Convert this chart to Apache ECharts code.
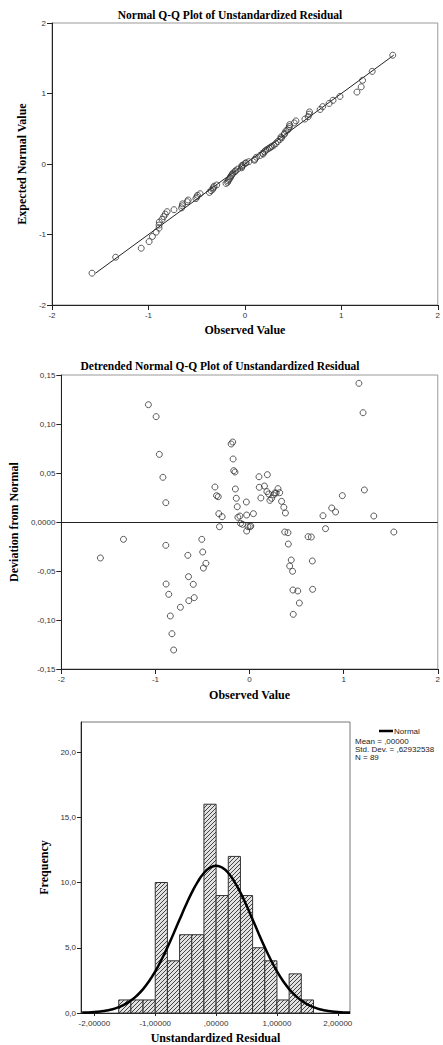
<!DOCTYPE html>
<html>
<head>
<meta charset="utf-8">
<script src="https://cdn.jsdelivr.net/npm/echarts@6/dist/echarts.min.js"></script>
<style>
  html, body { margin: 0; padding: 0; background: #fff; }
  #main { width: 443px; height: 1045px; }
</style>
</head>
<body>
<div id="main"></div>
<script>
// residuals (x) and their deviation from normal
const observed = [
  -1.585, -1.340, -1.075, -0.993, -0.959, -0.921, -0.890, -0.890, -0.887, -0.859,
  -0.842, -0.825, -0.807, -0.735, -0.656, -0.649, -0.646, -0.598, -0.588, -0.508,
  -0.498, -0.491, -0.464, -0.368, -0.351, -0.333, -0.327, -0.320, -0.292, -0.196,
  -0.179, -0.175, -0.168, -0.155, -0.151, -0.141, -0.131, -0.124, -0.103, -0.096,
  -0.075, -0.034, -0.031, -0.031, -0.017, 0.005, 0.013, 0.041, 0.100, 0.103,
  0.120, 0.158, 0.184, 0.189, 0.203, 0.216, 0.234, 0.254, 0.268, 0.282,
  0.302, 0.320, 0.340, 0.364, 0.381, 0.374, 0.408, 0.412, 0.443, 0.426,
  0.457, 0.461, 0.512, 0.529, 0.464, 0.622, 0.656, 0.667, 0.670, 0.780,
  0.807, 0.873, 0.914, 0.986, 1.162, 1.206, 1.220, 1.320, 1.533
];
const deviation = [
  -0.0367, -0.0177, 0.1197, 0.1075, 0.0690, 0.0456, 0.0197, -0.0238, -0.0633, -0.0738,
  -0.0959, -0.1140, -0.1306, -0.0870, -0.0340, -0.0558, -0.0803, -0.0636, -0.0772, -0.0177,
  -0.0306, -0.0470, -0.0422, 0.0357, 0.0269, 0.0258, 0.0085, -0.0048, 0.0054, 0.0796,
  0.0816, 0.0643, 0.0524, 0.0510, 0.0337, 0.0242, 0.0156, 0.0048, 0.0061, -0.0014,
  -0.0024, 0.0204, 0.0071, -0.0092, -0.0048, -0.0048, -0.0041, 0.0085, 0.0462, 0.0354,
  0.0245, 0.0367, 0.0310, 0.0483, 0.0286, 0.0221, 0.0242, 0.0276, 0.0296, 0.0296,
  0.0340, 0.0299, 0.0211, 0.0150, 0.0092, -0.0102, -0.0109, -0.0225, -0.0388, -0.0449,
  -0.0503, -0.0694, -0.0704, -0.0827, -0.0942, -0.0150, -0.0153, -0.0398, -0.0687, 0.0064,
  -0.0068, 0.0143, 0.0102, 0.0269, 0.1415, 0.1115, 0.0327, 0.0061, -0.0102
];

// histogram
const binStarts = [-1.6, -1.4, -1.2, -1.0, -0.8, -0.6, -0.4, -0.2, 0.0, 0.2, 0.4, 0.6, 0.8, 1.0, 1.2, 1.4];
const binCounts = [1, 1, 1, 10, 4, 6, 6, 16, 9, 12, 9, 5, 4, 1, 3, 1];
const BIN_WIDTH = 0.2;

// normal curve
const curveX = [
  -2.2, -2.1, -2.0, -1.9, -1.8, -1.7, -1.6, -1.5, -1.4, -1.3, -1.2, -1.1, -1.0, -0.9, -0.8,
  -0.7, -0.6, -0.5, -0.4, -0.3, -0.2, -0.1, 0.0, 0.1, 0.2, 0.3, 0.4, 0.5, 0.6, 0.7,
  0.8, 0.9, 1.0, 1.1, 1.2, 1.3, 1.4, 1.5, 1.6, 1.7, 1.8, 1.9, 2.0, 2.1, 2.2
];
const curveY = [
  0.03, 0.04, 0.07, 0.12, 0.19, 0.29, 0.45, 0.66, 0.95, 1.34, 1.83, 2.45, 3.19, 4.06, 5.03,
  6.08, 7.16, 8.23, 9.22, 10.07, 10.73, 11.14, 11.28, 11.14, 10.73, 10.07, 9.22, 8.23, 7.16, 6.08,
  5.03, 4.06, 3.19, 2.45, 1.83, 1.34, 0.95, 0.66, 0.45, 0.29, 0.19, 0.12, 0.07, 0.04, 0.03
];

const histXTicks = [-2, -1, 0, 1, 2];
const histYTicks = [0, 5, 10, 15, 20];
const statsLines = ['Mean = ,00000', 'Std. Dev. = ,62932538', 'N = 89'];

const qqPoints = observed.map((x, i) => [x, +(x - deviation[i]).toFixed(4)]);
const detrendPoints = observed.map((x, i) => [x, deviation[i]]);
const expected = qqPoints.map(p => p[1]);
const refLine = [Math.min(...expected), Math.max(...expected)].map(v => [v, v]);
const histData = binStarts.map((s, i) => [s, s + BIN_WIDTH, binCounts[i]]);
const curveData = curveX.map((x, i) => [x, curveY[i]]);

const SERIF = '"Liberation Serif", "DejaVu Serif", serif';
const SANS = '"Liberation Sans", Arial, sans-serif';
const INK = '#222';

function hatchPattern() {
  const c = document.createElement('canvas');
  c.width = 4; c.height = 4;
  const g = c.getContext('2d');
  g.fillStyle = '#e2e2e2';
  g.fillRect(0, 0, 4, 4);
  g.strokeStyle = '#444';
  g.lineWidth = 1;
  g.beginPath();
  g.moveTo(0, 4); g.lineTo(4, 0);
  g.moveTo(-1, 1); g.lineTo(1, -1);
  g.moveTo(3, 5); g.lineTo(5, 3);
  g.stroke();
  return { image: c, repeat: 'repeat' };
}

function axisBase(extra) {
  return Object.assign({
    type: 'value',
    splitLine: { show: false },
    axisLine: { onZero: false, lineStyle: { color: INK, width: 1 } },
    axisTick: { length: 5, lineStyle: { color: INK } },
    axisLabel: { color: '#333', fontSize: 8, fontFamily: SANS, margin: 6 },
    nameLocation: 'middle',
    nameTextStyle: { color: '#000', fontSize: 12, fontWeight: 'bold', fontFamily: SERIF }
  }, extra);
}

const gridStyle = { show: true, borderColor: '#999', borderWidth: 1 };
const chart = echarts.init(document.getElementById('main'), null, { renderer: 'svg' });

chart.setOption({
  animation: false,
  backgroundColor: '#fff',
  grid: [
    Object.assign({ left: 52, top: 23, width: 388, height: 282 }, gridStyle),
    Object.assign({ left: 52, top: 375, width: 388, height: 294 }, gridStyle),
    Object.assign({ left: 81, top: 722, width: 269, height: 293 }, gridStyle, { borderColor: '#777' })
  ],
  graphic: [
    { type: 'text', x: 230, y: 15, style: { text: 'Normal Q-Q Plot of Unstandardized Residual', font: 'bold 11.5px ' + SERIF, fill: '#000', align: 'center', verticalAlign: 'middle' } },
    { type: 'text', x: 220, y: 366, style: { text: 'Detrended Normal Q-Q Plot of Unstandardized Residual', font: 'bold 11.5px ' + SERIF, fill: '#000', align: 'center', verticalAlign: 'middle' } },
    { type: 'text', x: 355, y: 737, style: { text: statsLines.join('\n'), font: '8px ' + SANS, fill: '#222', lineHeight: 8, align: 'left', verticalAlign: 'top' } }
  ],
  legend: {
    data: [{ name: 'Normal', icon: 'rect' }],
    left: 379, top: 727, padding: 0,
    itemWidth: 14, itemHeight: 2.5, itemGap: 2,
    textStyle: { fontSize: 8, lineHeight: 8, height: 8, fontFamily: SANS, color: '#222', padding: [0, 0, 0, -4] }
  },
  xAxis: [
    axisBase({ gridIndex: 0, min: -2, max: 2, interval: 1, name: 'Observed Value', nameGap: 19 }),
    axisBase({ gridIndex: 1, min: -2, max: 2, interval: 1, name: 'Observed Value', nameGap: 20 }),
    axisBase({
      gridIndex: 2, min: -2.22, max: 2.2, name: 'Unstandardized Residual', nameGap: 19,
      axisTick: { length: 3, lineStyle: { color: INK }, customValues: histXTicks },
      axisLabel: { color: '#333', fontSize: 8, fontFamily: SANS, margin: 6, customValues: histXTicks,
        formatter: v => Math.abs(v) < 1e-9 ? ',00000' : v.toFixed(5).replace('.', ',') }
    })
  ],
  yAxis: [
    axisBase({ gridIndex: 0, min: -2, max: 2, interval: 1, name: 'Expected Normal Value', nameGap: 17 }),
    axisBase({
      gridIndex: 1, min: -0.15, max: 0.15, interval: 0.05, name: 'Deviation from Normal', nameGap: 36,
      axisLabel: { color: '#333', fontSize: 8, fontFamily: SANS, margin: 6,
        formatter: v => Math.abs(v) < 1e-9 ? '0,0000' : v.toFixed(2).replace('.', ',') }
    }),
    axisBase({
      gridIndex: 2, min: 0, max: 22.3, name: 'Frequency', nameGap: 23,
      axisTick: { length: 4, lineStyle: { color: INK }, customValues: histYTicks },
      axisLabel: { color: '#333', fontSize: 8, fontFamily: SANS, margin: 5, customValues: histYTicks,
        formatter: v => v.toFixed(1).replace('.', ',') }
    })
  ],
  series: [
    {
      type: 'line', xAxisIndex: 0, yAxisIndex: 0, data: refLine,
      symbol: 'none', silent: true, lineStyle: { color: INK, width: 1 }, z: 2
    },
    {
      type: 'scatter', xAxisIndex: 0, yAxisIndex: 0, data: qqPoints,
      symbol: 'circle', symbolSize: 6,
      itemStyle: { color: 'rgba(0,0,0,0)', borderColor: '#333', borderWidth: 1 }, z: 3
    },
    {
      type: 'scatter', xAxisIndex: 1, yAxisIndex: 1, data: detrendPoints,
      symbol: 'circle', symbolSize: 6,
      itemStyle: { color: 'rgba(0,0,0,0)', borderColor: '#333', borderWidth: 1 },
      markLine: {
        silent: true, symbol: 'none', label: { show: false },
        lineStyle: { color: INK, width: 1, type: 'solid' },
        data: [{ yAxis: 0 }]
      }
    },
    {
      type: 'custom', xAxisIndex: 2, yAxisIndex: 2, data: histData,
      renderItem: (params, api) => {
        const p0 = api.coord([api.value(0), 0]);
        const p1 = api.coord([api.value(1), api.value(2)]);
        return {
          type: 'rect',
          shape: { x: p0[0], y: p1[1], width: p1[0] - p0[0], height: p0[1] - p1[1] },
          style: { fill: hatchPattern(), stroke: '#333', lineWidth: 1 }
        };
      },
      z: 2
    },
    {
      name: 'Normal', type: 'line', xAxisIndex: 2, yAxisIndex: 2, data: curveData,
      smooth: true, symbol: 'none', silent: true,
      lineStyle: { color: '#000', width: 2.5 },
      itemStyle: { color: '#000' }, z: 4
    }
  ]
});
</script>
</body>
</html>
